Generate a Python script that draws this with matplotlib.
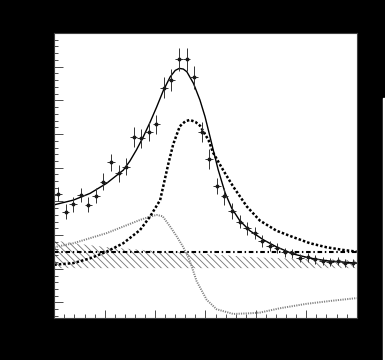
import matplotlib
matplotlib.use('Agg')
import matplotlib.pyplot as plt
import numpy as np
from matplotlib.ticker import MultipleLocator
from matplotlib.patches import Rectangle

# measured spectrum: 40 bins of width 1.5
bin_centres = np.arange(0.75, 60, 1.5)
counts = [42.2, 36.9, 39.2, 41.9, 39.0, 41.7, 45.9, 51.6, 48.4, 50.3,
          59.2, 58.7, 60.7, 62.9, 73.8, 76.1, 82.2, 82.2, 76.8, 60.5,
          52.6, 44.6, 41.5, 37.2, 34.0, 32.0, 30.6, 28.3, 26.8, 26.1,
          24.9, 24.6, 23.2, 23.4, 22.8, 22.2, 22.1, 22.3, 21.7, 21.6]
errors = [2.2, 2.2, 2.2, 2.2, 2.2, 2.2, 2.5, 2.5, 2.5, 2.5,
          2.9, 2.9, 2.9, 2.8, 3.2, 3.2, 3.4, 3.4, 3.3, 3.0,
          3.0, 2.5, 2.5, 2.3, 2.0, 2.0, 1.8, 1.8, 1.5, 1.5,
          1.4, 1.4, 1.3, 1.3, 1.3, 1.2, 1.2, 1.2, 1.2, 1.2]

# total fit
fit_x = [0, 3.8, 7.1, 10.4, 13.7, 15.0, 16.3, 17.6, 19.0, 20.3, 21.6, 23.0,
         24.0, 24.8, 25.6, 26.3, 27.6, 28.9, 29.9, 30.9, 31.5, 32.5, 33.9,
         35.2, 36.8, 38.8, 41.5, 44.1, 47.4, 50.7, 54.0, 57.3, 60]
fit_y = [39.0, 40.4, 42.4, 45.4, 49.3, 52.0, 55.3, 59.0, 63.5, 68.0, 72.8, 77.0,
         78.9, 79.5, 79.3, 78.5, 75.1, 70.1, 65.2, 59.2, 55.5, 49.5, 42.5,
         38.0, 34.3, 31.3, 28.6, 26.5, 24.4, 23.2, 22.4, 22.0, 21.7]

# resonance component
res_x = [0, 3.8, 7.1, 10.4, 13.7, 17.0, 19.0, 21.0, 22.6, 23.6, 24.9, 26.0,
         26.9, 28.0, 28.9, 30.6, 31.5, 33.5, 35.5, 38.2, 40.8, 44.1, 47.4,
         50.7, 54.0, 57.3, 60]
res_y = [21.2, 21.7, 23.1, 25.1, 27.6, 31.5, 35.5, 40.4, 51.0, 57.0, 62.3, 63.8,
         64.2, 63.6, 62.5, 58.2, 54.5, 49.3, 44.4, 38.5, 34.3, 31.3, 29.4,
         27.6, 26.4, 25.6, 25.1]

# interference term
int_x = [0, 3.8, 10.4, 17.0, 19.0, 20.3, 21.5, 23.0, 24.3, 25.6, 26.9, 28.25,
         30.24, 32.2, 35.5, 38.8, 40.8, 44.8, 50.0, 55.0, 60]
int_y = [26.4, 27.6, 30.6, 34.5, 35.5, 36.0, 35.6, 32.5, 29.6, 26.4, 22.3, 16.3,
         10.8, 8.0, 6.6, 6.8, 7.0, 8.3, 9.6, 10.5, 11.3]

# flat background level
bkg_level = 25.0

# background band
band_x = [0, 5, 10, 20, 30, 40, 50, 60]
band_hi = [28.4, 27.4, 26.5, 25.3, 24.4, 23.4, 22.9, 22.6]
band_lo = [20.2, 20.2, 20.2, 20.2, 20.2, 20.2, 20.2, 20.2]

plt.rcParams['hatch.linewidth'] = 0.6
plt.rcParams['hatch.color'] = '0.45'

fig = plt.figure(figsize=(3.85, 3.6), dpi=100, facecolor='black')
ax = fig.add_axes([0.141, 0.1167, 0.7855, 0.7916], facecolor='white')

ax.fill_between(band_x, band_lo, band_hi, facecolor='none', edgecolor='0.45',
                hatch='\\\\\\\\\\', linewidth=0)

ax.plot([0, 60], [bkg_level, bkg_level], color='black', lw=1.5,
        linestyle=(0, (2.2, 1.3, 0.7, 1.3)))
ax.plot(int_x, int_y, color='0.5', lw=1.4, linestyle=(0, (0.6, 0.6)))
ax.plot(res_x, res_y, color='black', lw=1.8, linestyle=(0, (1, 0.8)))
ax.plot(fit_x, fit_y, color='black', lw=1.0)

ax.errorbar(bin_centres, counts, yerr=errors, xerr=0.75, fmt='o', ms=1.8,
            color='0.1', ecolor='0.2', elinewidth=0.7, capsize=0)

ax.set_xlim(0, 60)
ax.set_ylim(5.4, 90)
ax.xaxis.set_major_locator(MultipleLocator(10))
ax.xaxis.set_minor_locator(MultipleLocator(2))
ax.yaxis.set_major_locator(MultipleLocator(10))
ax.yaxis.set_minor_locator(MultipleLocator(2))
ax.tick_params(which='both', direction='in', top=False, right=False,
               labelbottom=False, labelleft=False, color='0.3', width=0.7)
ax.tick_params(axis='y', which='major', length=6.5)
ax.tick_params(axis='y', which='minor', length=3.2)
ax.tick_params(axis='x', which='major', length=5.8)
ax.tick_params(axis='x', which='minor', length=3.0)
for s in ax.spines.values():
    s.set_color('0.25')
    s.set_linewidth(0.8)

# thin light strip on the right border
fig.patches.append(Rectangle((383.3 / 385, 0), 1.7 / 385, 1 - 98 / 360,
                             transform=fig.transFigure, color='white'))

fig.savefig('out.png', dpi=100, facecolor='black')
